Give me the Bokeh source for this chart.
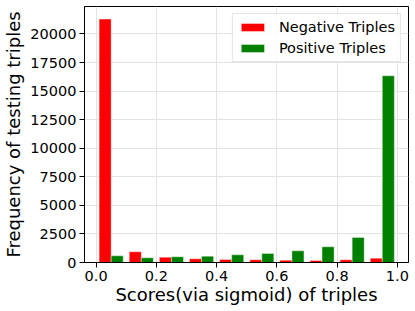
from bokeh.plotting import figure
from bokeh.models import ColumnDataSource, FixedTicker, PrintfTickFormatter, Range1d
from bokeh.embed import file_html
from bokeh.resources import INLINE

# Histogram bins (sigmoid score) and counts
bin_edges = [0.0, 0.1, 0.2, 0.3, 0.4, 0.5, 0.6, 0.7, 0.8, 0.9, 1.0]
negative_counts = [21300, 937, 469, 322, 264, 234, 205, 176, 234, 381]
positive_counts = [586, 410, 498, 557, 674, 791, 1025, 1377, 2197, 16340]
x_ticks = [0.0, 0.2, 0.4, 0.6, 0.8, 1.0]
y_ticks = [0, 2500, 5000, 7500, 10000, 12500, 15000, 17500, 20000]

lefts = bin_edges[:-1]
widths = [b - a for a, b in zip(bin_edges[:-1], bin_edges[1:])]
neg_x = [a + 0.3 * w for a, w in zip(lefts, widths)]
pos_x = [a + 0.7 * w for a, w in zip(lefts, widths)]
bar_w = [0.4 * w for w in widths]

neg_src = ColumnDataSource(dict(x=neg_x, top=negative_counts, w=bar_w))
pos_src = ColumnDataSource(dict(x=pos_x, top=positive_counts, w=bar_w))

FONT = "DejaVu Sans"

p = figure(width=409, height=307, output_backend="svg", toolbar_location=None,
           x_range=Range1d(-0.0385, 1.037), y_range=Range1d(0, 22400),
           min_border_left=81, min_border_right=1, min_border_top=6, min_border_bottom=45)

p.vbar(x="x", top="top", width="w", bottom=0, source=neg_src, fill_color="#ff0000",
       line_color="white", line_alpha=0.4, line_width=1, legend_label="Negative Triples")
p.vbar(x="x", top="top", width="w", bottom=0, source=pos_src, fill_color="#008000",
       line_color="white", line_alpha=0.4, line_width=1, legend_label="Positive Triples")

p.xaxis.ticker = FixedTicker(ticks=x_ticks)
p.xaxis.formatter = PrintfTickFormatter(format="%.1f")
p.yaxis.ticker = FixedTicker(ticks=y_ticks)
p.xaxis.axis_label = "Scores(via sigmoid) of triples"
p.yaxis.axis_label = "Frequency of testing triples"

for ax in (p.xaxis, p.yaxis):
    ax.axis_label_text_font = FONT
    ax.axis_label_text_font_size = "18px"
    ax.axis_label_text_font_style = "normal"
    ax.axis_label_text_color = "black"
    ax.major_label_text_font = FONT
    ax.major_label_text_font_size = "14.5px"
    ax.major_label_text_color = "black"
    ax.axis_line_color = "black"
    ax.major_tick_line_color = "black"
    ax.major_tick_out = 5
    ax.major_tick_in = 0
    ax.minor_tick_line_color = None

p.xaxis.major_label_standoff = 3
p.xaxis.axis_label_standoff = 0
p.yaxis.major_label_standoff = 3
p.yaxis.axis_label_standoff = 3

p.xgrid.ticker = FixedTicker(ticks=x_ticks)
p.ygrid.ticker = FixedTicker(ticks=y_ticks)
p.grid.grid_line_color = "#e3e3e3"
p.grid.grid_line_width = 1

p.outline_line_color = "black"
p.outline_line_width = 1
p.background_fill_color = "white"
p.border_fill_color = "white"

lg = p.legend[0]
lg.location = "top_right"
lg.margin = 7
lg.padding = 5
lg.spacing = 5
lg.label_height = 16
lg.glyph_height = 10
lg.glyph_width = 29
lg.label_standoff = 12
lg.label_text_font = FONT
lg.label_text_font_size = "14.5px"
lg.label_text_color = "black"
lg.border_line_color = "#cccccc"
lg.background_fill_alpha = 0.8

open("out.html", "w").write(file_html(p, INLINE))
